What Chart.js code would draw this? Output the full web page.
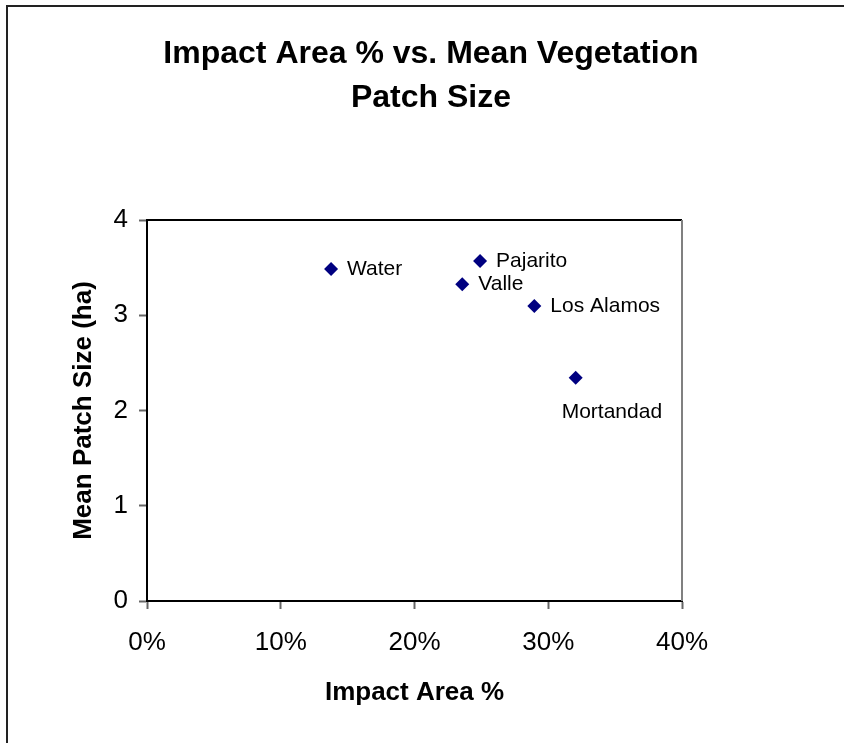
<!DOCTYPE html>
<html>
<head>
<meta charset="utf-8">
<script src="https://cdn.jsdelivr.net/npm/chart.js@4.4.0/dist/chart.umd.min.js"></script>
<style>
    body { margin: 0; background: #fff; }
    #wrap { position: relative; width: 844px; height: 743px; }
    #frame { position: absolute; left: 6px; top: 5px; right: -10px; bottom: -10px; border-top: 2px solid #222; border-left: 2px solid #222; }
    canvas { position: absolute; left: 0; top: 0; }
</style>
</head>
<body>
<div id="wrap">
    <div id="frame"></div>
    <canvas id="scatter" width="844" height="743"></canvas>
</div>
<script>
var sites = ["Water", "Pajarito", "Valle", "Los Alamos", "Mortandad"];
var impactArea = [0.1376, 0.249, 0.2357, 0.2896, 0.3205];
var patchSize = [3.486, 3.57, 3.325, 3.097, 2.344];
var xTicks = [0, 0.1, 0.2, 0.3, 0.4];
var yTicks = [0, 1, 2, 3, 4];
// where each site name sits next to its point
var labelSide = ["right", "right", "right", "right", "below"];

var points = [];
for (var i = 0; i < sites.length; i++) {
    points.push({ x: impactArea[i], y: patchSize[i] });
}

var siteLabels = {
    id: 'siteLabels',
    afterDatasetsDraw: function (chart) {
        var ctx = chart.ctx;
        var meta = chart.getDatasetMeta(0);
        ctx.save();
        ctx.font = '21px "Liberation Sans", Arial, sans-serif';
        ctx.fillStyle = '#000';
        ctx.textBaseline = 'middle';
        ctx.textAlign = 'left';
        meta.data.forEach(function (pt, i) {
            if (labelSide[i] == 'below') {
                ctx.fillText(sites[i], pt.x - 14, pt.y + 34);
            } else {
                ctx.fillText(sites[i], pt.x + 16, pt.y);
            }
        });
        ctx.restore();
    }
};

// top and right edges of the plot box
var plotBox = {
    id: 'plotBox',
    beforeDatasetsDraw: function (chart) {
        var a = chart.chartArea;
        var ctx = chart.ctx;
        ctx.save();
        ctx.lineWidth = 2;
        ctx.strokeStyle = '#000';
        ctx.beginPath();
        ctx.moveTo(a.left, a.top);
        ctx.lineTo(a.right, a.top);
        ctx.stroke();
        ctx.strokeStyle = '#808080';
        ctx.beginPath();
        ctx.moveTo(a.right, a.top);
        ctx.lineTo(a.right, a.bottom);
        ctx.stroke();
        ctx.restore();
    }
};

var ctx = document.getElementById('scatter').getContext('2d');
var chart = new Chart(ctx, {
    type: 'scatter',
    data: {
        datasets: [{
            data: points,
            pointStyle: 'rectRot',
            pointRadius: 7,
            pointHoverRadius: 7,
            pointBorderWidth: 0,
            backgroundColor: '#000080',
            borderColor: '#000080'
        }]
    },
    plugins: [plotBox, siteLabels],
    options: {
        responsive: false,
        animation: false,
        layout: { padding: { left: 18, top: 0, right: 0, bottom: 10 } },
        plugins: {
            legend: { display: false },
            tooltip: { enabled: false },
            title: {
                display: true,
                text: ["Impact Area % vs. Mean Vegetation", "Patch Size"],
                color: '#000',
                font: { family: '"Liberation Sans", Arial, sans-serif', size: 32, weight: 'bold', lineHeight: 1.375 },
                padding: { top: 32, bottom: 100 }
            }
        },
        scales: {
            x: {
                type: 'linear',
                min: 0,
                max: 0.4,
                afterBuildTicks: function (scale) {
                    scale.ticks = xTicks.map(function (v) { return { value: v }; });
                },
                afterFit: function (scale) { scale.height = 132; },
                ticks: {
                    color: '#000',
                    padding: 18,
                    font: { family: '"Liberation Sans", Arial, sans-serif', size: 26 },
                    callback: function (v) { return Math.round(v * 100) + '%'; }
                },
                grid: { drawOnChartArea: false, tickLength: 8, tickColor: '#666', tickWidth: 2 },
                border: { color: '#000', width: 2 },
                title: {
                    display: true,
                    text: 'Impact Area %',
                    color: '#000',
                    font: { family: '"Liberation Sans", Arial, sans-serif', size: 26, weight: 'bold' },
                    padding: { bottom: 25 }
                }
            },
            y: {
                type: 'linear',
                min: 0,
                max: 4,
                afterBuildTicks: function (scale) {
                    scale.ticks = yTicks.map(function (v) { return { value: v }; });
                },
                afterFit: function (scale) { scale.width = 129; },
                ticks: {
                    color: '#000',
                    padding: 11,
                    font: { family: '"Liberation Sans", Arial, sans-serif', size: 26 }
                },
                grid: { drawOnChartArea: false, tickLength: 8, tickColor: '#666', tickWidth: 2 },
                border: { color: '#000', width: 2 },
                title: {
                    display: true,
                    text: 'Mean Patch Size (ha)',
                    color: '#000',
                    font: { family: '"Liberation Sans", Arial, sans-serif', size: 26, weight: 'bold' },
                    padding: { top: 50 }
                }
            },
            // empty axis on the right, only holds the space next to the plot
            y2: {
                position: 'right',
                display: true,
                afterFit: function (scale) { scale.width = 162; },
                ticks: { display: false },
                grid: { display: false },
                border: { display: false }
            }
        }
    }
});
</script>
</body>
</html>
